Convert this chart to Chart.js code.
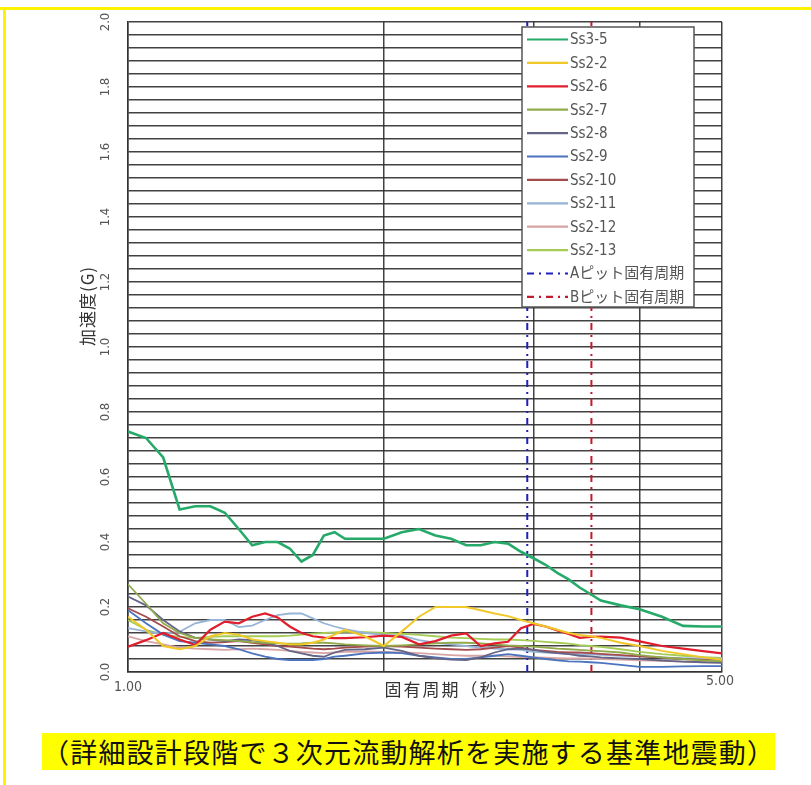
<!DOCTYPE html>
<html>
<head>
<meta charset="utf-8">
<script src="https://cdn.jsdelivr.net/npm/chart.js@4.4.1/dist/chart.umd.min.js"></script>
<style>
  html, body { margin: 0; padding: 0; background: #fff; }
  #page { position: relative; width: 811px; height: 785px; overflow: hidden; background: #fff; }
  #frameTop { position: absolute; left: 0; top: 7px; width: 811px; height: 3px; background: #fff200; }
  #frameLeft { position: absolute; left: 3px; top: 7px; width: 3px; height: 778px; background: #fff200; }
  #wrap { position: absolute; left: 0; top: 0; width: 811px; height: 720px; }
  #caption {
    position: absolute; left: 42px; top: 733px; width: 733px; height: 37px;
    background: #ffff00; color: #111; white-space: nowrap; text-align: center;
    font-family: 'Noto Sans CJK JP', sans-serif; font-size: 27px; line-height: 37px; letter-spacing: 1.2px;
  }
</style>
</head>
<body>
<div id="page">
  <div id="frameTop"></div>
  <div id="frameLeft"></div>
  <div id="wrap"><canvas id="spectrumChart" width="811" height="720"></canvas></div>
  <div id="caption">（詳細設計段階で３次元流動解析を実施する基準地震動）</div>
</div>
<script>
// natural period (s)
const periods = [1.00, 1.05, 1.10, 1.15, 1.20, 1.25, 1.30, 1.35, 1.40, 1.45, 1.50, 1.55, 1.60, 1.65, 1.70, 1.75, 1.80, 1.90, 2.00, 2.10,
                 2.20, 2.30, 2.40, 2.50, 2.60, 2.70, 2.80, 2.90, 3.00, 3.10, 3.20, 3.30, 3.40, 3.50, 3.60, 3.80, 4.00, 4.25, 4.50, 4.75, 5.00];

// acceleration response (G)
const ss3_5  = [0.74, 0.72, 0.66, 0.50, 0.51, 0.51, 0.49, 0.44, 0.39, 0.40, 0.40, 0.38, 0.34, 0.36, 0.42, 0.43, 0.41, 0.41, 0.41, 0.43,
                0.44, 0.42, 0.41, 0.39, 0.39, 0.40, 0.395, 0.37, 0.35, 0.33, 0.305, 0.285, 0.26, 0.24, 0.22, 0.205, 0.193, 0.17, 0.142, 0.14, 0.14];
const ss2_2  = [0.17, 0.13, 0.08, 0.07, 0.08, 0.11, 0.12, 0.115, 0.10, 0.095, 0.09, 0.085, 0.085, 0.09, 0.10, 0.115, 0.13, 0.11, 0.08, 0.125,
                0.17, 0.20, 0.20, 0.20, 0.19, 0.18, 0.172, 0.16, 0.15, 0.14, 0.13, 0.12, 0.114, 0.11, 0.105, 0.09, 0.08, 0.065, 0.055, 0.045, 0.038];
const ss2_6  = [0.078, 0.098, 0.12, 0.10, 0.083, 0.13, 0.155, 0.15, 0.17, 0.18, 0.168, 0.14, 0.12, 0.11, 0.106, 0.104, 0.104, 0.107, 0.112, 0.108,
                0.085, 0.095, 0.112, 0.119, 0.08, 0.088, 0.093, 0.135, 0.148, 0.14, 0.128, 0.117, 0.105, 0.108, 0.109, 0.106, 0.094, 0.08, 0.072, 0.064, 0.057];
const ss2_7  = [0.27, 0.21, 0.15, 0.12, 0.105, 0.10, 0.098, 0.095, 0.092, 0.09, 0.088, 0.087, 0.088, 0.09, 0.09, 0.088, 0.085, 0.082, 0.08, 0.082,
                0.085, 0.088, 0.09, 0.09, 0.088, 0.085, 0.082, 0.08, 0.078, 0.075, 0.072, 0.07, 0.068, 0.066, 0.064, 0.06, 0.052, 0.045, 0.04, 0.036, 0.033];
const ss2_8  = [0.232, 0.205, 0.16, 0.125, 0.105, 0.10, 0.095, 0.10, 0.098, 0.09, 0.08, 0.065, 0.057, 0.05, 0.047, 0.06, 0.068, 0.07, 0.075, 0.065,
                0.05, 0.042, 0.038, 0.037, 0.045, 0.06, 0.07, 0.072, 0.068, 0.062, 0.058, 0.055, 0.05, 0.048, 0.045, 0.042, 0.04, 0.035, 0.032, 0.03, 0.028];
const ss2_9  = [0.19, 0.15, 0.115, 0.095, 0.09, 0.085, 0.08, 0.07, 0.057, 0.047, 0.04, 0.037, 0.037, 0.037, 0.04, 0.047, 0.05, 0.057, 0.06, 0.058,
                0.05, 0.045, 0.04, 0.04, 0.045, 0.05, 0.055, 0.05, 0.045, 0.04, 0.036, 0.033, 0.032, 0.03, 0.028, 0.022, 0.016, 0.016, 0.017, 0.018, 0.018];
const ss2_10 = [0.196, 0.17, 0.14, 0.11, 0.095, 0.09, 0.092, 0.095, 0.09, 0.085, 0.08, 0.078, 0.075, 0.072, 0.07, 0.072, 0.075, 0.078, 0.08, 0.078,
                0.075, 0.072, 0.07, 0.068, 0.07, 0.075, 0.08, 0.075, 0.068, 0.065, 0.062, 0.06, 0.06, 0.058, 0.056, 0.052, 0.048, 0.044, 0.04, 0.037, 0.035];
const ss2_11 = [0.135, 0.125, 0.118, 0.124, 0.15, 0.16, 0.16, 0.138, 0.143, 0.16, 0.175, 0.18, 0.18, 0.165, 0.15, 0.14, 0.132, 0.12, 0.114, 0.112,
                0.098, 0.09, 0.085, 0.08, 0.075, 0.072, 0.07, 0.068, 0.062, 0.06, 0.058, 0.056, 0.055, 0.054, 0.053, 0.05, 0.048, 0.045, 0.043, 0.041, 0.04];
const ss2_12 = [0.11, 0.095, 0.085, 0.075, 0.072, 0.07, 0.068, 0.07, 0.072, 0.07, 0.068, 0.065, 0.062, 0.06, 0.058, 0.06, 0.062, 0.063, 0.062, 0.06,
                0.058, 0.055, 0.052, 0.05, 0.05, 0.05, 0.048, 0.046, 0.045, 0.044, 0.043, 0.042, 0.042, 0.041, 0.04, 0.038, 0.036, 0.034, 0.032, 0.03, 0.03];
const ss2_13 = [0.16, 0.13, 0.115, 0.108, 0.105, 0.108, 0.11, 0.11, 0.11, 0.11, 0.11, 0.112, 0.115, 0.118, 0.12, 0.122, 0.124, 0.123, 0.12, 0.117,
                0.114, 0.11, 0.106, 0.104, 0.102, 0.10, 0.10, 0.098, 0.096, 0.093, 0.09, 0.087, 0.083, 0.08, 0.077, 0.07, 0.062, 0.055, 0.05, 0.046, 0.043];

// pit natural periods (s)
const aPitPeriod = 2.95;
const bPitPeriod = 3.51;

const yTickLabels = ['0.0', '0.2', '0.4', '0.6', '0.8', '1.0', '1.2', '1.4', '1.6', '1.8', '2.0'];
const xTickLabels = ['1.00', '5.00'];
const xGridPeriods = [1, 2, 3, 4, 5];
const yGridStep = 0.04;

const series = [
  { label: 'Ss3-5',  data: ss3_5,  color: 'rgb(38,170,105)', width: 2.6 },
  { label: 'Ss2-2',  data: ss2_2,  color: 'rgb(240,200,40)', width: 2 },
  { label: 'Ss2-6',  data: ss2_6,  color: 'rgb(225,30,45)',  width: 2.2 },
  { label: 'Ss2-7',  data: ss2_7,  color: 'rgb(145,170,75)', width: 1.8 },
  { label: 'Ss2-8',  data: ss2_8,  color: 'rgb(100,100,135)', width: 1.8 },
  { label: 'Ss2-9',  data: ss2_9,  color: 'rgb(75,115,190)', width: 1.8 },
  { label: 'Ss2-10', data: ss2_10, color: 'rgb(165,75,75)',  width: 1.8 },
  { label: 'Ss2-11', data: ss2_11, color: 'rgb(150,180,215)', width: 1.8 },
  { label: 'Ss2-12', data: ss2_12, color: 'rgb(215,165,165)', width: 1.8 },
  { label: 'Ss2-13', data: ss2_13, color: 'rgb(165,205,85)', width: 1.8 }
];

const datasets = series.map(s => ({
  label: s.label,
  data: s.data.map((v, i) => ({ x: periods[i], y: v })),
  borderColor: s.color,
  borderWidth: s.width
}));
datasets.push({
  label: 'Aピット固有周期',
  data: [{ x: aPitPeriod, y: 0 }, { x: aPitPeriod, y: 2 }],
  borderColor: 'rgb(30,30,190)', borderWidth: 2, borderDash: [7, 5, 2, 5]
});
datasets.push({
  label: 'Bピット固有周期',
  data: [{ x: bPitPeriod, y: 0 }, { x: bPitPeriod, y: 2 }],
  borderColor: 'rgb(195,25,45)', borderWidth: 2, borderDash: [7, 5, 2, 5]
});

const gridColor = 'rgba(45,45,45,0.9)';
const latinFont = "'DejaVu Sans Condensed', 'DejaVu Sans', 'Noto Sans CJK JP', sans-serif";
const cjkFont = "'Noto Sans CJK JP', sans-serif";

// axis texts and the boxed legend inside the plot
const chartText = {
  id: 'chartText',
  afterDraw(chart) {
    const { ctx, scales } = chart;
    const xs = scales.x, ys = scales.y;
    ctx.save();

    ctx.fillStyle = '#555';
    ctx.font = '13px ' + latinFont;
    ctx.textAlign = 'center';
    ctx.textBaseline = 'middle';
    yTickLabels.forEach(lab => {
      const py = ys.getPixelForValue(parseFloat(lab));
      ctx.save();
      ctx.translate(106, py);
      ctx.rotate(-Math.PI / 2);
      ctx.fillText(lab, 0, 0);
      ctx.restore();
    });

    ctx.font = '14px ' + latinFont;
    ctx.fillText(xTickLabels[0], xs.getPixelForValue(parseFloat(xTickLabels[0])), ys.bottom + 15);
    ctx.fillText(xTickLabels[1], xs.getPixelForValue(parseFloat(xTickLabels[1])) - 2, ys.bottom + 9);

    ctx.fillStyle = '#333';
    ctx.font = '17px ' + cjkFont;
    if ('letterSpacing' in ctx) ctx.letterSpacing = '2px';
    ctx.fillText('固有周期（秒）', 451, ys.bottom + 18);
    if ('letterSpacing' in ctx) ctx.letterSpacing = '0px';

    ctx.font = '17px ' + cjkFont;
    ctx.save();
    ctx.translate(88, 306);
    ctx.rotate(-Math.PI / 2);
    if ('letterSpacing' in ctx) ctx.letterSpacing = '1px';
    ctx.fillText('加速度(G)', 0, 0);
    ctx.restore();

    // legend
    const box = { left: 522, top: 27, right: 694, bottom: 307 };
    ctx.fillStyle = '#fff';
    ctx.fillRect(box.left, box.top, box.right - box.left, box.bottom - box.top);
    ctx.strokeStyle = '#555';
    ctx.lineWidth = 1.5;
    ctx.strokeRect(box.left, box.top, box.right - box.left, box.bottom - box.top);

    ctx.textAlign = 'left';
    ctx.font = '15px ' + latinFont;
    chart.data.datasets.forEach((ds, i) => {
      const ry = box.top + 12.5 + i * 23.4;
      ctx.strokeStyle = ds.borderColor;
      ctx.lineWidth = 2.2;
      ctx.setLineDash(ds.borderDash || []);
      ctx.beginPath();
      ctx.moveTo(box.left + 5, ry);
      ctx.lineTo(box.left + 46, ry);
      ctx.stroke();
      ctx.setLineDash([]);
      ctx.fillStyle = '#555';
      ctx.fillText(ds.label, box.left + 48, ry + 1);
    });
    ctx.restore();
  }
};

new Chart(document.getElementById('spectrumChart'), {
  type: 'line',
  data: { datasets: datasets },
  options: {
    responsive: false,
    animation: false,
    layout: { padding: { left: 128, top: 22, right: 89, bottom: 48 } },
    elements: { point: { radius: 0 }, line: { tension: 0 } },
    plugins: { legend: { display: false }, tooltip: { enabled: false } },
    scales: {
      x: {
        type: 'logarithmic', min: 1, max: 5,
        afterBuildTicks: scale => { scale.ticks = xGridPeriods.map(v => ({ value: v })); },
        ticks: { display: false },
        grid: { color: gridColor, lineWidth: 1.5, drawTicks: false },
        border: { color: '#333', width: 1.5 }
      },
      y: {
        type: 'linear', min: 0, max: 2,
        afterBuildTicks: scale => {
          const t = [];
          for (let i = 0; i <= 50; i++) t.push({ value: i * yGridStep });
          scale.ticks = t;
        },
        ticks: { display: false },
        grid: { color: gridColor, lineWidth: 1.5, drawTicks: false },
        border: { color: '#333', width: 1.5 }
      }
    }
  },
  plugins: [chartText]
});
</script>
</body>
</html>
